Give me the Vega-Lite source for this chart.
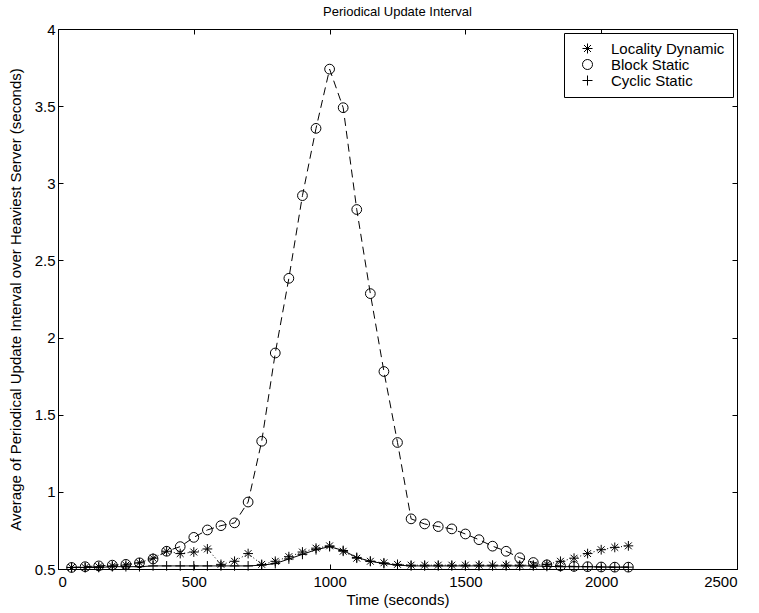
{
  "$schema": "https://vega.github.io/schema/vega-lite/v6.json",
  "width": 679,
  "height": 540,
  "autosize": {"type": "none"},
  "padding": {"left": 58, "top": 29, "right": 22, "bottom": 44},
  "background": "white",
  "title": {
    "text": "Periodical Update Interval",
    "font": "Liberation Sans",
    "fontSize": 13,
    "fontWeight": "normal",
    "color": "black",
    "offset": 3
  },
  "config": {
    "view": {"stroke": "black", "strokeWidth": 1},
    "axis": {
      "grid": false,
      "domainColor": "black",
      "tickColor": "black",
      "tickSize": -5,
      "labelColor": "black",
      "titleColor": "black",
      "labelFont": "Liberation Sans",
      "titleFont": "Liberation Sans",
      "labelFontSize": 15,
      "titleFontSize": 15,
      "titleFontWeight": "normal"
    }
  },
  "datasets": {
    "runs": [
      {"series": "Locality Dynamic", "time": 50, "value": 0.51},
      {"series": "Locality Dynamic", "time": 100, "value": 0.51},
      {"series": "Locality Dynamic", "time": 150, "value": 0.515},
      {"series": "Locality Dynamic", "time": 200, "value": 0.52},
      {"series": "Locality Dynamic", "time": 250, "value": 0.525},
      {"series": "Locality Dynamic", "time": 300, "value": 0.54},
      {"series": "Locality Dynamic", "time": 350, "value": 0.57},
      {"series": "Locality Dynamic", "time": 400, "value": 0.615},
      {"series": "Locality Dynamic", "time": 450, "value": 0.6},
      {"series": "Locality Dynamic", "time": 500, "value": 0.61},
      {"series": "Locality Dynamic", "time": 550, "value": 0.63},
      {"series": "Locality Dynamic", "time": 600, "value": 0.53},
      {"series": "Locality Dynamic", "time": 650, "value": 0.55},
      {"series": "Locality Dynamic", "time": 700, "value": 0.6},
      {"series": "Locality Dynamic", "time": 750, "value": 0.53},
      {"series": "Locality Dynamic", "time": 800, "value": 0.55},
      {"series": "Locality Dynamic", "time": 850, "value": 0.58},
      {"series": "Locality Dynamic", "time": 900, "value": 0.61},
      {"series": "Locality Dynamic", "time": 950, "value": 0.635},
      {"series": "Locality Dynamic", "time": 1000, "value": 0.65},
      {"series": "Locality Dynamic", "time": 1050, "value": 0.615},
      {"series": "Locality Dynamic", "time": 1100, "value": 0.57},
      {"series": "Locality Dynamic", "time": 1150, "value": 0.55},
      {"series": "Locality Dynamic", "time": 1200, "value": 0.54},
      {"series": "Locality Dynamic", "time": 1250, "value": 0.53},
      {"series": "Locality Dynamic", "time": 1300, "value": 0.525},
      {"series": "Locality Dynamic", "time": 1350, "value": 0.525},
      {"series": "Locality Dynamic", "time": 1400, "value": 0.525},
      {"series": "Locality Dynamic", "time": 1450, "value": 0.525},
      {"series": "Locality Dynamic", "time": 1500, "value": 0.525},
      {"series": "Locality Dynamic", "time": 1550, "value": 0.525},
      {"series": "Locality Dynamic", "time": 1600, "value": 0.525},
      {"series": "Locality Dynamic", "time": 1650, "value": 0.525},
      {"series": "Locality Dynamic", "time": 1700, "value": 0.525},
      {"series": "Locality Dynamic", "time": 1750, "value": 0.525},
      {"series": "Locality Dynamic", "time": 1800, "value": 0.53},
      {"series": "Locality Dynamic", "time": 1850, "value": 0.55},
      {"series": "Locality Dynamic", "time": 1900, "value": 0.57},
      {"series": "Locality Dynamic", "time": 1950, "value": 0.6},
      {"series": "Locality Dynamic", "time": 2000, "value": 0.625},
      {"series": "Locality Dynamic", "time": 2050, "value": 0.64},
      {"series": "Locality Dynamic", "time": 2100, "value": 0.65},

      {"series": "Block Static", "time": 50, "value": 0.51},
      {"series": "Block Static", "time": 100, "value": 0.515},
      {"series": "Block Static", "time": 150, "value": 0.52},
      {"series": "Block Static", "time": 200, "value": 0.525},
      {"series": "Block Static", "time": 250, "value": 0.53},
      {"series": "Block Static", "time": 300, "value": 0.54},
      {"series": "Block Static", "time": 350, "value": 0.565},
      {"series": "Block Static", "time": 400, "value": 0.615},
      {"series": "Block Static", "time": 450, "value": 0.645},
      {"series": "Block Static", "time": 500, "value": 0.705},
      {"series": "Block Static", "time": 550, "value": 0.753},
      {"series": "Block Static", "time": 600, "value": 0.781},
      {"series": "Block Static", "time": 650, "value": 0.799},
      {"series": "Block Static", "time": 700, "value": 0.934},
      {"series": "Block Static", "time": 750, "value": 1.328},
      {"series": "Block Static", "time": 800, "value": 1.9},
      {"series": "Block Static", "time": 850, "value": 2.384},
      {"series": "Block Static", "time": 900, "value": 2.92},
      {"series": "Block Static", "time": 950, "value": 3.356},
      {"series": "Block Static", "time": 1000, "value": 3.74},
      {"series": "Block Static", "time": 1050, "value": 3.49},
      {"series": "Block Static", "time": 1100, "value": 2.83},
      {"series": "Block Static", "time": 1150, "value": 2.285},
      {"series": "Block Static", "time": 1200, "value": 1.78},
      {"series": "Block Static", "time": 1250, "value": 1.32},
      {"series": "Block Static", "time": 1300, "value": 0.825},
      {"series": "Block Static", "time": 1350, "value": 0.792},
      {"series": "Block Static", "time": 1400, "value": 0.775},
      {"series": "Block Static", "time": 1450, "value": 0.76},
      {"series": "Block Static", "time": 1500, "value": 0.727},
      {"series": "Block Static", "time": 1550, "value": 0.69},
      {"series": "Block Static", "time": 1600, "value": 0.648},
      {"series": "Block Static", "time": 1650, "value": 0.615},
      {"series": "Block Static", "time": 1700, "value": 0.573},
      {"series": "Block Static", "time": 1750, "value": 0.542},
      {"series": "Block Static", "time": 1800, "value": 0.527},
      {"series": "Block Static", "time": 1850, "value": 0.52},
      {"series": "Block Static", "time": 1900, "value": 0.517},
      {"series": "Block Static", "time": 1950, "value": 0.515},
      {"series": "Block Static", "time": 2000, "value": 0.513},
      {"series": "Block Static", "time": 2050, "value": 0.512},
      {"series": "Block Static", "time": 2100, "value": 0.512},

      {"series": "Cyclic Static", "time": 50, "value": 0.51},
      {"series": "Cyclic Static", "time": 100, "value": 0.51},
      {"series": "Cyclic Static", "time": 150, "value": 0.51},
      {"series": "Cyclic Static", "time": 200, "value": 0.515},
      {"series": "Cyclic Static", "time": 250, "value": 0.515},
      {"series": "Cyclic Static", "time": 300, "value": 0.515},
      {"series": "Cyclic Static", "time": 350, "value": 0.52},
      {"series": "Cyclic Static", "time": 400, "value": 0.52},
      {"series": "Cyclic Static", "time": 450, "value": 0.52},
      {"series": "Cyclic Static", "time": 500, "value": 0.52},
      {"series": "Cyclic Static", "time": 550, "value": 0.52},
      {"series": "Cyclic Static", "time": 600, "value": 0.52},
      {"series": "Cyclic Static", "time": 650, "value": 0.52},
      {"series": "Cyclic Static", "time": 700, "value": 0.52},
      {"series": "Cyclic Static", "time": 750, "value": 0.525},
      {"series": "Cyclic Static", "time": 800, "value": 0.535},
      {"series": "Cyclic Static", "time": 850, "value": 0.565},
      {"series": "Cyclic Static", "time": 900, "value": 0.595},
      {"series": "Cyclic Static", "time": 950, "value": 0.625},
      {"series": "Cyclic Static", "time": 1000, "value": 0.645},
      {"series": "Cyclic Static", "time": 1050, "value": 0.62},
      {"series": "Cyclic Static", "time": 1100, "value": 0.575},
      {"series": "Cyclic Static", "time": 1150, "value": 0.55},
      {"series": "Cyclic Static", "time": 1200, "value": 0.535},
      {"series": "Cyclic Static", "time": 1250, "value": 0.525},
      {"series": "Cyclic Static", "time": 1300, "value": 0.52},
      {"series": "Cyclic Static", "time": 1350, "value": 0.52},
      {"series": "Cyclic Static", "time": 1400, "value": 0.52},
      {"series": "Cyclic Static", "time": 1450, "value": 0.52},
      {"series": "Cyclic Static", "time": 1500, "value": 0.52},
      {"series": "Cyclic Static", "time": 1550, "value": 0.52},
      {"series": "Cyclic Static", "time": 1600, "value": 0.52},
      {"series": "Cyclic Static", "time": 1650, "value": 0.52},
      {"series": "Cyclic Static", "time": 1700, "value": 0.52},
      {"series": "Cyclic Static", "time": 1750, "value": 0.52},
      {"series": "Cyclic Static", "time": 1800, "value": 0.517},
      {"series": "Cyclic Static", "time": 1850, "value": 0.515},
      {"series": "Cyclic Static", "time": 1900, "value": 0.515},
      {"series": "Cyclic Static", "time": 1950, "value": 0.515},
      {"series": "Cyclic Static", "time": 2000, "value": 0.513},
      {"series": "Cyclic Static", "time": 2050, "value": 0.512},
      {"series": "Cyclic Static", "time": 2100, "value": 0.512}
    ]
  },
  "data": {"name": "runs"},
  "layer": [
    {
      "transform": [{"filter": "datum.series === 'Locality Dynamic'"}],
      "mark": {"type": "line", "stroke": "black", "strokeWidth": 1, "strokeDash": [1, 2.5]},
      "encoding": {
        "x": {
          "field": "time",
          "type": "quantitative",
          "scale": {"domain": [0, 2500], "nice": false},
          "axis": {"orient": "top", "labels": false, "title": null, "domain": false, "values": [0, 500, 1000, 1500, 2000, 2500]}
        },
        "y": {
          "field": "value",
          "type": "quantitative",
          "scale": {"domain": [0.5, 4], "nice": false, "zero": false},
          "axis": {"orient": "right", "labels": false, "title": null, "domain": false, "values": [0.5, 1, 1.5, 2, 2.5, 3, 3.5, 4]}
        }
      }
    },
    {
      "transform": [{"filter": "datum.series === 'Block Static'"}],
      "mark": {"type": "line", "stroke": "black", "strokeWidth": 1, "strokeDash": [8, 5]},
      "encoding": {
        "x": {"field": "time", "type": "quantitative", "axis": null},
        "y": {"field": "value", "type": "quantitative", "axis": null}
      }
    },
    {
      "transform": [{"filter": "datum.series === 'Cyclic Static'"}],
      "mark": {"type": "line", "stroke": "black", "strokeWidth": 1},
      "encoding": {
        "x": {"field": "time", "type": "quantitative", "axis": null},
        "y": {"field": "value", "type": "quantitative", "axis": null}
      }
    },
    {
      "mark": {"type": "point", "filled": false, "stroke": "black", "strokeWidth": 1, "opacity": 1, "size": 95},
      "encoding": {
        "x": {
          "field": "time",
          "type": "quantitative",
          "axis": {"orient": "bottom", "title": "Time (seconds)", "format": "d", "values": [0, 500, 1000, 1500, 2000, 2500], "labelPadding": 10, "titlePadding": 3}
        },
        "y": {
          "field": "value",
          "type": "quantitative",
          "axis": {"orient": "left", "title": "Average of Periodical Update Interval over Heaviest Server (seconds)", "format": "~g", "values": [0.5, 1, 1.5, 2, 2.5, 3, 3.5, 4], "labelPadding": 8, "titlePadding": 11}
        },
        "shape": {
          "field": "series",
          "type": "nominal",
          "scale": {
            "domain": ["Locality Dynamic", "Block Static", "Cyclic Static"],
            "range": [
              "M0,-1L0,1M-1,0L1,0M-0.7,-0.7L0.7,0.7M-0.7,0.7L0.7,-0.7",
              "circle",
              "M0,-1L0,1M-1,0L1,0"
            ]
          },
          "legend": {
            "title": null,
            "orient": "top-right",
            "offset": 4,
            "strokeColor": "black",
            "fillColor": "white",
            "padding": 8,
            "cornerRadius": 0,
            "labelFont": "Liberation Sans",
            "labelFontSize": 15,
            "labelColor": "black",
            "symbolSize": 100,
            "symbolOffset": 8,
            "labelOffset": 16,
            "rowPadding": 0,
            "symbolStrokeColor": "black",
            "symbolStrokeWidth": 1
          }
        }
      }
    }
  ],
  "resolve": {"axis": {"x": "independent", "y": "independent"}}
}
